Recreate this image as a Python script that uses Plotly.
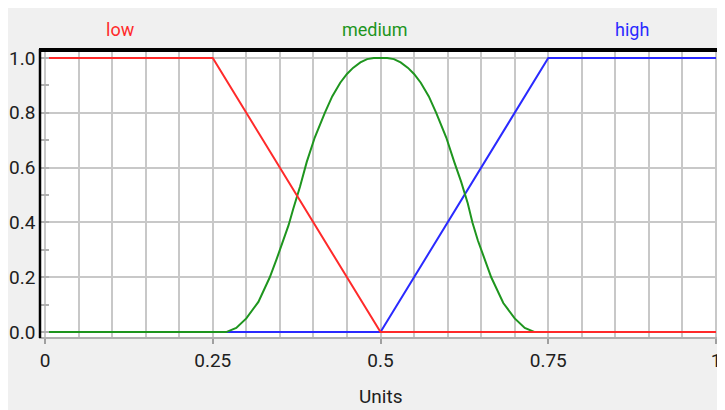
import plotly.graph_objects as go

# ---- data ----
x_low = [0, 0.25, 0.5, 1]
y_low = [1, 1, 0, 0]

x_high = [0, 0.5, 0.75, 1]
y_high = [0, 0, 1, 1]

x_medium = [0, 0.27, 0.285, 0.30, 0.318, 0.335, 0.345, 0.355, 0.363, 0.37, 0.38, 0.39,
            0.402, 0.417, 0.428, 0.44, 0.45, 0.459, 0.47, 0.48, 0.49, 0.5, 0.51, 0.52,
            0.53, 0.541, 0.55, 0.56, 0.572, 0.583, 0.598, 0.61, 0.62, 0.63, 0.637,
            0.645, 0.655, 0.665, 0.683, 0.70, 0.715, 0.73]
y_medium = [0, 0, 0.015, 0.05, 0.11, 0.20, 0.265, 0.335, 0.39, 0.45, 0.53, 0.62,
            0.71, 0.80, 0.86, 0.91, 0.942, 0.964, 0.984, 0.996, 1.0, 1.0, 1.0, 0.996,
            0.984, 0.964, 0.942, 0.91, 0.86, 0.80, 0.71, 0.62, 0.55, 0.47, 0.40,
            0.335, 0.265, 0.20, 0.106, 0.05, 0.015, 0]

labels = ["low", "medium", "high"]
label_x = [0.112, 0.492, 0.875]
x_tickvals = [0, 0.25, 0.5, 0.75, 1]
x_ticktext = ["0", "0.25", "0.5", "0.75", "1"]
y_tickvals = [0, 0.2, 0.4, 0.6, 0.8, 1.0]
y_ticktext = ["0.0", "0.2", "0.4", "0.6", "0.8", "1.0"]
x_title = "Units"

RED = "#ff2a2a"
GREEN = "#1e951e"
BLUE = "#2a2aff"
FONT = "Roboto, Liberation Sans, sans-serif"
TXT = "#202020"

fig = go.Figure()
fig.add_trace(go.Scatter(x=x_high, y=y_high, mode="lines", line=dict(color=BLUE, width=2)))
fig.add_trace(go.Scatter(x=x_medium, y=y_medium, mode="lines", line=dict(color=GREEN, width=2)))
fig.add_trace(go.Scatter(x=x_low, y=y_low, mode="lines", line=dict(color=RED, width=2)))

# the page body adds an 8px white margin at top/left; all pixel positions below are page pixels
OFF = 8
W, H = 725 - OFF, 410 - OFF
L, R, T, B = 41 - OFF, 7, 52 - OFF, 73
pw, ph = W - L - R, H - T - B

def px_x(p):
    return (p - OFF - L) / pw

def px_y(p):
    return (H - B - (p - OFF)) / ph

shapes = [
    # thick black frame top and left
    dict(type="line", xref="paper", yref="paper", x0=px_x(39), x1=px_x(720), y0=px_y(50), y1=px_y(50),
         line=dict(color="black", width=4)),
    dict(type="line", xref="paper", yref="paper", x0=px_x(40), x1=px_x(40), y0=px_y(338), y1=px_y(49),
         line=dict(color="black", width=2.5)),
]

annotations = []
for name, lx, col in zip(labels, label_x, [RED, GREEN, BLUE]):
    annotations.append(dict(x=lx, y=px_y(30), xref="x", yref="paper", text=name, showarrow=False,
                            font=dict(family=FONT, size=18, color=col), xanchor="center", yanchor="middle"))
annotations.append(dict(x=0.5, y=px_y(396), xref="x", yref="paper", text=x_title, showarrow=False,
                        font=dict(family=FONT, size=19, color=TXT), xanchor="center", yanchor="middle"))

fig.update_layout(
    width=W, height=H,
    margin=dict(l=L, r=R, t=T, b=B, pad=0, autoexpand=False),
    paper_bgcolor="#f0f0f0",
    plot_bgcolor="white",
    showlegend=False,
    shapes=shapes,
    annotations=annotations,
    font=dict(family=FONT, size=19, color=TXT),
)
fig.update_xaxes(
    range=[-0.006, 1.003], automargin=False,
    tickvals=x_tickvals, ticktext=x_ticktext,
    ticks="outside", ticklen=5, tickcolor="#a0a0a0", tickwidth=1.5,
    showgrid=True, gridcolor="#c8c8c8", gridwidth=1.5,
    minor=dict(dtick=0.05, tick0=0, showgrid=True, gridcolor="#c8c8c8", gridwidth=1.5, ticks=""),
    showline=True, mirror=True, linecolor="#b0b0b0", linewidth=1.5,
    zeroline=False,
    tickfont=dict(family=FONT, size=19, color=TXT),
)
fig.update_yaxes(
    range=[-0.018, 1.022], automargin=False,
    tickvals=y_tickvals, ticktext=y_ticktext,
    ticks="", showgrid=True, gridcolor="#c8c8c8", gridwidth=1.5,
    minor=dict(dtick=0.1, tick0=0, ticks="inside", ticklen=8, tickcolor="#b0b0b0", tickwidth=1.5, showgrid=False),
    showline=True, mirror=True, linecolor="#b0b0b0", linewidth=1.5,
    zeroline=False,
    tickfont=dict(family=FONT, size=19, color=TXT),
)

fig.write_html("out.html")
